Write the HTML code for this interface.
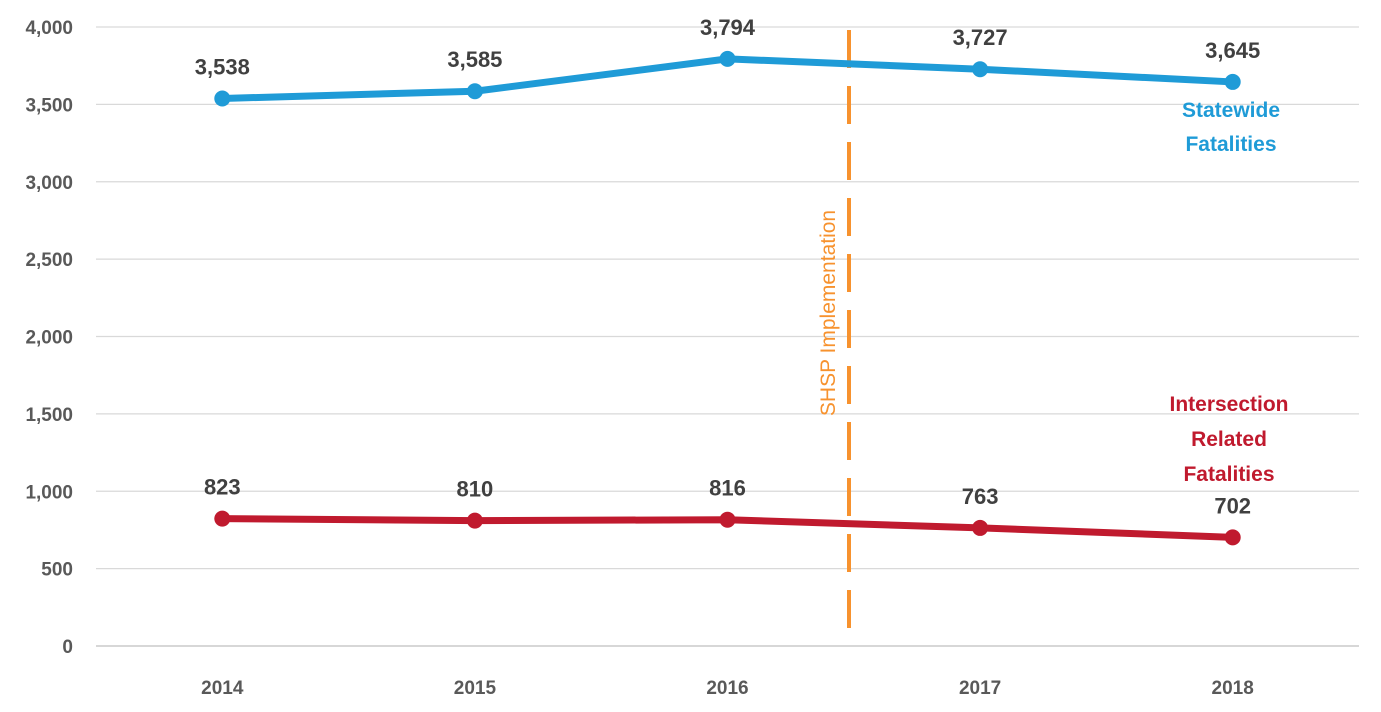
<!DOCTYPE html>
<html><head><meta charset="utf-8"><style>
html,body{margin:0;padding:0;background:#fff;}
svg{display:block;font-family:"Liberation Sans",sans-serif;}
</style></head><body>
<svg id="chart" width="1381" height="712" viewBox="0 0 1381 712" xmlns="http://www.w3.org/2000/svg">
<g id="grid"></g>
<g id="yticks"></g>
<g id="xticks"></g>
<line x1="849" y1="30" x2="849" y2="646" stroke="#F7922E" stroke-width="4" stroke-dasharray="38,18"/>
<text transform="translate(835,313) rotate(-90)" text-anchor="middle" font-size="21" fill="#F7922E">SHSP Implementation</text>
<g id="series"></g>
<text x="1231" y="117" text-anchor="middle" font-size="21" font-weight="bold" fill="#1F9BD7">Statewide</text>
<text x="1231" y="151" text-anchor="middle" font-size="21" font-weight="bold" fill="#1F9BD7">Fatalities</text>
<text x="1229" y="411" text-anchor="middle" font-size="21" font-weight="bold" fill="#C01A2E">Intersection</text>
<text x="1229" y="446" text-anchor="middle" font-size="21" font-weight="bold" fill="#C01A2E">Related</text>
<text x="1229" y="481" text-anchor="middle" font-size="21" font-weight="bold" fill="#C01A2E">Fatalities</text>
</svg>
<script>
const categories = ["2014","2015","2016","2017","2018"];
const statewide = [3538,3585,3794,3727,3645];
const intersection = [823,810,816,763,702];
const yTicks = [0,500,1000,1500,2000,2500,3000,3500,4000];

const NS="http://www.w3.org/2000/svg";
const left=96,right=1359,y0=646,yTop=27,yMax=4000;
const bw=(right-left)/categories.length;
const xs=i=>left+bw*(i+0.5);
const ys=v=>y0-(v/yMax)*(y0-yTop);
function mk(tag,attrs,parent){const e=document.createElementNS(NS,tag);for(const k in attrs)e.setAttribute(k,attrs[k]);parent.appendChild(e);return e;}
const fmt=v=>v.toLocaleString("en-US");
const grid=document.getElementById("grid"),yt=document.getElementById("yticks"),xt=document.getElementById("xticks"),ser=document.getElementById("series");
yTicks.forEach(t=>{
  const l=mk("line",{x1:left,x2:right,y1:ys(t),y2:ys(t),stroke:t===0?"#BFBFBF":"#D9D9D9","stroke-width":1.3},grid);
  
  
  const tx=mk("text",{x:73,y:ys(t)+7,"text-anchor":"end","font-size":19,"font-weight":"bold",fill:"#595959"},yt);
  tx.textContent=fmt(t);
  
  
});
categories.forEach((c,i)=>{
  const tx=mk("text",{x:xs(i),y:694,"text-anchor":"middle","font-size":19,"font-weight":"bold",fill:"#595959"},xt);
  tx.textContent=c;
  
  
});
function drawSeries(vals,color,name){
  const pts=vals.map((v,i)=>xs(i)+","+ys(v)).join(" ");
  const pl=mk("polyline",{points:pts,fill:"none",stroke:color,"stroke-width":7,"stroke-linejoin":"round"},ser);
  
  
  vals.forEach((v,i)=>{
    const c=mk("circle",{cx:xs(i),cy:ys(v),r:8,fill:color},ser);
    
    
    const t=mk("text",{x:xs(i),y:ys(v)-24,"text-anchor":"middle","font-size":22,"font-weight":"bold",fill:"#404040"},ser);
    t.textContent=fmt(v);
    
    
  });
}
drawSeries(statewide,"#1F9BD7","statewide");
drawSeries(intersection,"#C01A2E","intersection");
</script>
</body></html>
